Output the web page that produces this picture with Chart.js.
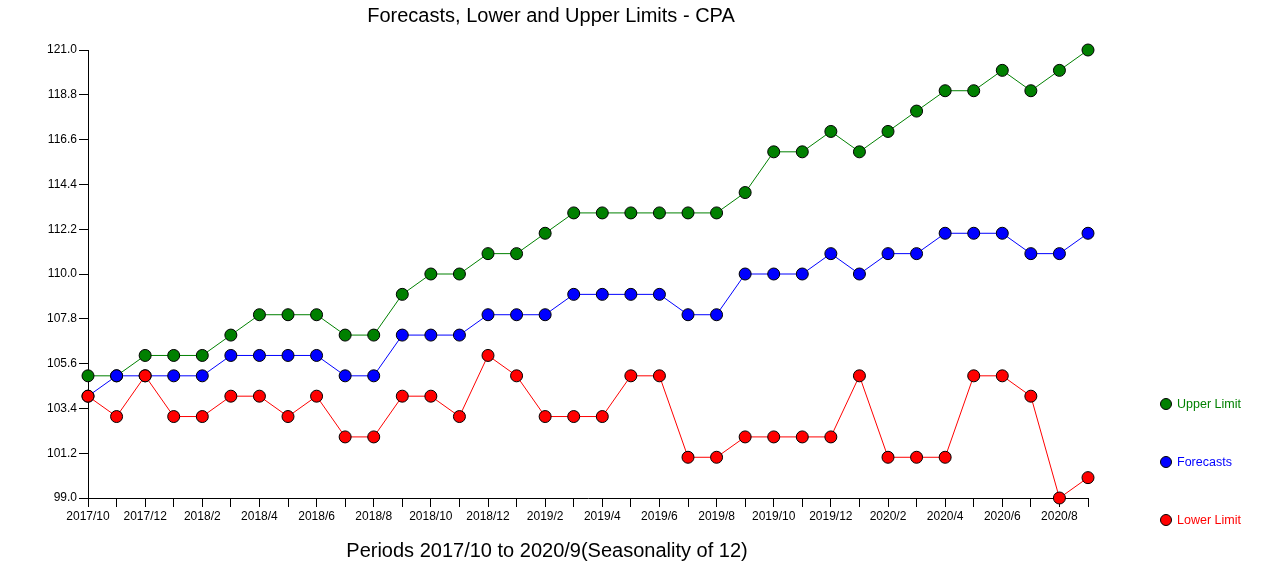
<!DOCTYPE html>
<html>
<head>
<meta charset="utf-8">
<script src="https://cdn.jsdelivr.net/npm/chart.js@4/dist/chart.umd.min.js"></script>
<style>
html,body{margin:0;padding:0;background:#fff;}
#wrap{position:relative;width:1272px;height:561px;}
</style>
</head>
<body>
<div id="wrap"><canvas id="c" width="1272" height="561"></canvas></div>
<script>
const periods = ["2017/10","2017/11","2017/12","2018/1","2018/2","2018/3","2018/4","2018/5","2018/6","2018/7","2018/8","2018/9",
  "2018/10","2018/11","2018/12","2019/1","2019/2","2019/3","2019/4","2019/5","2019/6","2019/7","2019/8","2019/9",
  "2019/10","2019/11","2019/12","2020/1","2020/2","2020/3","2020/4","2020/5","2020/6","2020/7","2020/8","2020/9"];
const upperLimit = [105,105,106,106,106,107,108,108,108,107,107,109,110,110,111,111,112,113,113,113,113,113,113,114,116,116,117,116,117,118,119,119,120,119,120,121];
const forecasts  = [104,105,105,105,105,106,106,106,106,105,105,107,107,107,108,108,108,109,109,109,109,108,108,110,110,110,111,110,111,111,112,112,112,111,111,112];
const lowerLimit = [104,103,105,103,103,104,104,103,104,102,102,104,104,103,106,105,103,103,103,105,105,101,101,102,102,102,102,105,101,101,101,105,105,104,99,100];
const yTicks = [99.0,101.2,103.4,105.6,107.8,110.0,112.2,114.4,116.6,118.8,121.0];
const titleText = "Forecasts, Lower and Upper Limits - CPA";
const xTitleText = "Periods 2017/10 to 2020/9(Seasonality of 12)";
const seriesNames = ["Upper Limit","Forecasts","Lower Limit"];
const seriesColors = ["#008000","#0000FF","#FF0000"];

const FONT = "'Liberation Sans', Arial, sans-serif";

const extras = {
  id: 'extras',
  afterDraw(chart) {
    const ctx = chart.ctx;
    ctx.save();
    ctx.fillStyle = '#000';
    ctx.font = "20px " + FONT;
    ctx.textAlign = 'center';
    ctx.textBaseline = 'middle';
    ctx.fillText(titleText, 551, 16);
    ctx.fillText(xTitleText, 547, 551);
    // legend
    const ys = [404, 462, 520];
    ctx.font = "12.5px " + FONT;
    ctx.textAlign = 'left';
    for (let i = 0; i < 3; i++) {
      ctx.beginPath();
      ctx.arc(1166, ys[i], 5.5, 0, Math.PI * 2);
      ctx.fillStyle = seriesColors[i];
      ctx.fill();
      ctx.lineWidth = 1;
      ctx.strokeStyle = '#000';
      ctx.stroke();
      ctx.fillStyle = seriesColors[i];
      ctx.fillText(seriesNames[i], 1177, ys[i] + 1);
    }
    ctx.restore();
  }
};

function ds(label, data, color, order) {
  return {
    label, data, order,
    borderColor: color,
    backgroundColor: color,
    borderWidth: 1,
    pointRadius: 6,
    pointHoverRadius: 6,
    pointBackgroundColor: color,
    pointBorderColor: '#000',
    pointBorderWidth: 1,
    tension: 0,
    clip: false
  };
}

new Chart(document.getElementById('c'), {
  type: 'line',
  data: {
    labels: periods,
    datasets: [
      ds(seriesNames[0], upperLimit, seriesColors[0], 3),
      ds(seriesNames[1], forecasts, seriesColors[1], 2),
      ds(seriesNames[2], lowerLimit, seriesColors[2], 1)
    ]
  },
  options: {
    responsive: false,
    animation: false,
    events: [],
    layout: { padding: { top: 50, left: 0, right: 184, bottom: 0 } },
    plugins: { legend: { display: false }, title: { display: false }, tooltip: { enabled: false } },
    scales: {
      x: {
        type: 'category',
        offset: false,
        afterFit(scale) { scale.height = 63; },
        grid: { display: true, drawOnChartArea: false, drawTicks: true, tickLength: 9, color: '#000', lineWidth: 1 },
        border: { display: true, color: '#000', width: 1 },
        ticks: {
          autoSkip: false, maxRotation: 0, minRotation: 0, padding: 2,
          color: '#000', font: { family: FONT, size: 12 },
          callback(v, i) { return i % 2 === 0 ? periods[i] : ''; }
        }
      },
      y: {
        min: 99, max: 121,
        afterFit(scale) { scale.width = 88; },
        afterBuildTicks(scale) { scale.ticks = yTicks.map(v => ({ value: v })); },
        grid: { display: true, drawOnChartArea: false, drawTicks: true, tickLength: 9, color: '#000', lineWidth: 1 },
        border: { display: true, color: '#000', width: 1 },
        ticks: {
          padding: 2, color: '#000', font: { family: FONT, size: 12 },
          callback(v) { return Number(v).toFixed(1); }
        }
      }
    }
  },
  plugins: [extras]
});
</script>
</body>
</html>
